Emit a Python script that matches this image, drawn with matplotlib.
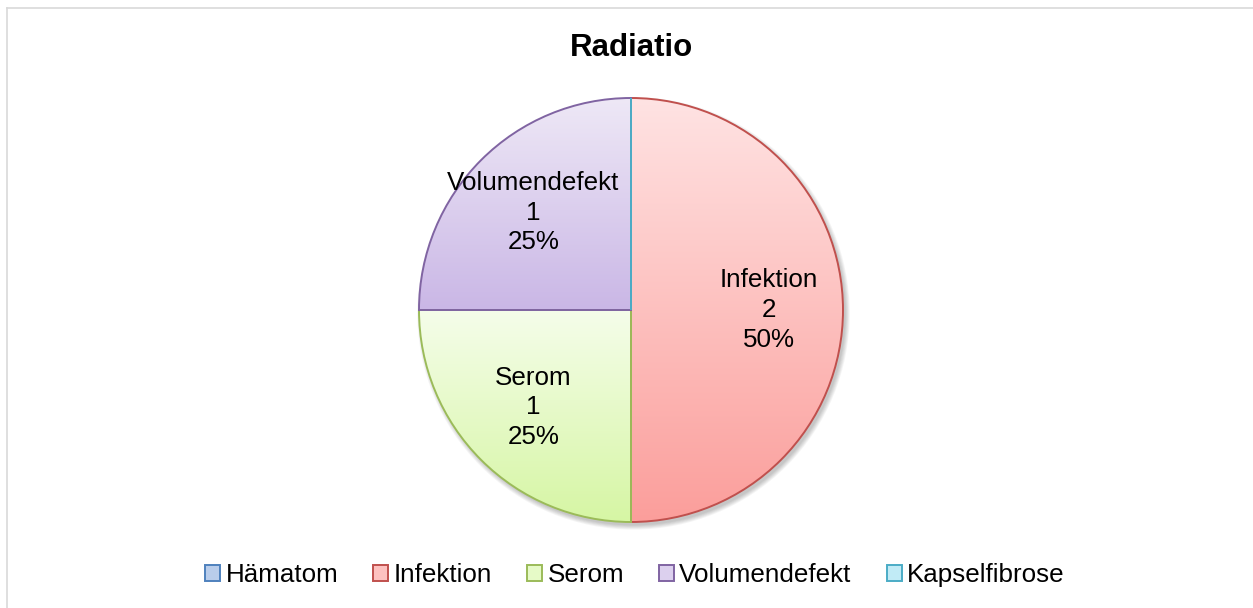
import numpy as np
import matplotlib.pyplot as plt
from matplotlib.patches import Patch, Circle
from matplotlib.lines import Line2D
from matplotlib.colors import to_rgb

categories = ['Hämatom', 'Infektion', 'Serom', 'Volumendefekt', 'Kapselfibrose']
counts = [0, 2, 1, 1, 0]
title = 'Radiatio'

edge_colors = ['#4F81BD', '#C0504D', '#9BBB59', '#8064A2', '#4BACC6']
top_colors = ['#D3E0F3', '#FFE3E3', '#F5FDEA', '#EEE8F6', '#DDF4FB']
bottom_colors = ['#9FBAE2', '#FB9E9B', '#D6F6A4', '#CAB7E6', '#A5E1F2']

plt.rcParams['font.family'] = ['Liberation Sans', 'DejaVu Sans']

W, H = 1253, 608
fig = plt.figure(figsize=(W / 100, H / 100), dpi=100)

# pie axes placed in pixels so 1 data unit = pie radius
cx, cy, r = 631, 310, 212
ax = fig.add_axes([(cx - r) / W, (H - cy - r) / H, 2 * r / W, 2 * r / H])

wedges, _ = ax.pie(counts, startangle=90, counterclock=False, radius=1,
                   wedgeprops=dict(linewidth=1.4))

# soft shadow under the pie
for k in range(6):
    ax.add_patch(Circle((0.012, -0.016), 1.0 + 0.004 * k, facecolor='black',
                        edgecolor='none', alpha=0.04, zorder=0.1, clip_on=False))

total = sum(counts)
for w, n, name, ec, tc, bc in zip(wedges, counts, categories,
                                   edge_colors, top_colors, bottom_colors):
    w.set_facecolor('none')
    w.set_edgecolor(ec)
    w.set_clip_on(False)
    w.set_zorder(2)
    if n == 0:
        continue
    bb = w.get_path().get_extents()
    g = np.linspace(0, 1, 256)[:, None, None]
    img = np.array(to_rgb(tc))[None, None, :] * (1 - g) + np.array(to_rgb(bc))[None, None, :] * g
    im = ax.imshow(img, extent=[bb.x0, bb.x1, bb.y0, bb.y1], origin='upper',
                   aspect='auto', interpolation='bilinear', zorder=1)
    im.set_clip_path(w)
    ang = np.deg2rad((w.theta1 + w.theta2) / 2)
    d = 0.65
    ax.text(d * np.cos(ang), d * np.sin(ang),
            f'{name}\n{n}\n{n / total * 100:.0f}%',
            ha='center', va='center', fontsize=18.7, linespacing=1.3, zorder=3)

ax.set_xlim(-1, 1)
ax.set_ylim(-1, 1)
ax.axis('off')

fig.text(cx / W, (H - 48) / H, title, ha='center', va='center',
         fontsize=22.5, fontweight='bold')

handles = [Patch(facecolor=tc, edgecolor=ec, linewidth=1.4)
           for ec, tc in zip(edge_colors, bottom_colors)]
for h, tc in zip(handles, top_colors):
    # mix top and bottom for a mid tone
    h.set_facecolor(tuple((np.array(to_rgb(tc)) + np.array(h.get_facecolor()[:3])) / 2))
fig.legend(handles, categories, loc='center', bbox_to_anchor=(635 / W, (H - 575) / H),
           ncol=5, frameon=False, fontsize=18.7, handlelength=0.58,
           handleheight=0.58, handletextpad=0.2, columnspacing=1.35)

# chart area border (only top and left visible)
fig.add_artist(Line2D([6.5 / W, 6.5 / W], [0, (H - 8) / H], transform=fig.transFigure,
                      color='#D9D9D9', lw=1.2))
fig.add_artist(Line2D([6.5 / W, 1], [(H - 8) / H, (H - 8) / H], transform=fig.transFigure,
                      color='#D9D9D9', lw=1.2))

fig.savefig('out.png', dpi=100)
